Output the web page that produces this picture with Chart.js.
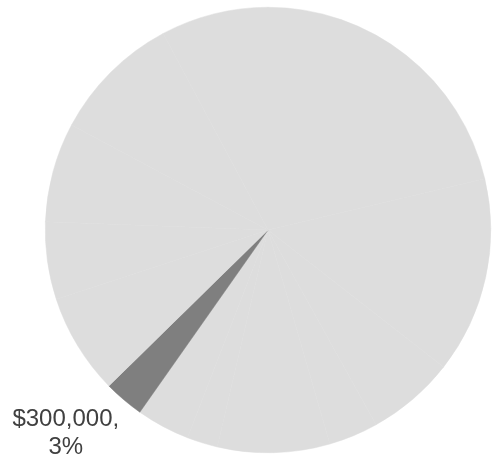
<!DOCTYPE html>
<html>
<head>
<meta charset="utf-8">
<script src="https://cdn.jsdelivr.net/npm/chart.js@4/dist/chart.umd.min.js"></script>
<style>
  html, body { margin: 0; padding: 0; background: #ffffff; }
  #wrap { width: 492px; height: 464px; position: relative; }
</style>
</head>
<body>
<div id="wrap"><canvas id="c" width="492" height="464"></canvas></div>
<script>
// Categories (slices, clockwise from 12 o'clock)
const categories = ["A", "B", "C", "D", "E", "F", "G", "H", "I", "J", "K", "L", "M"];
// Values in dollars
const values = [2200000, 1470000, 660000, 370000, 840000, 230000, 400000, 300000, 755000, 580000, 745000, 970000, 805000];
// Which slices are highlighted / labelled
const highlighted = ["H"];
const lightColor = "#dddddd";
const darkColor = "#7f7f7f";

const total = values.reduce((a, b) => a + b, 0);
const colors = categories.map(c => highlighted.includes(c) ? darkColor : lightColor);

const labelPlugin = {
  id: "sliceLabel",
  afterDatasetsDraw(chart) {
    const ctx = chart.ctx;
    const meta = chart.getDatasetMeta(0);
    categories.forEach((cat, i) => {
      if (!highlighted.includes(cat)) return;
      const arc = meta.data[i];
      const p = arc.getProps(["x", "y", "startAngle", "endAngle", "outerRadius"], true);
      const mid = (p.startAngle + p.endAngle) / 2;
      const r = p.outerRadius + 20;
      const ax = p.x + Math.cos(mid) * r;
      const ay = p.y + Math.sin(mid) * r;
      const v = values[i];
      const pct = Math.round(v / total * 100);
      const line1 = "$" + v.toLocaleString("en-US") + ",";
      const line2 = pct + "%";
      ctx.save();
      ctx.fillStyle = "#404040";
      ctx.font = "24px 'Liberation Sans', Arial, sans-serif";
      ctx.textAlign = "center";
      ctx.textBaseline = "alphabetic";
      const cx = ax - 45;
      ctx.fillText(line1, cx, ay + 11);
      ctx.fillText(line2, cx, ay + 39);
      ctx.restore();
    });
  }
};

new Chart(document.getElementById("c"), {
  type: "pie",
  data: {
    labels: categories,
    datasets: [{
      data: values,
      backgroundColor: colors,
      borderColor: colors,
      borderWidth: 0.5
    }]
  },
  options: {
    responsive: false,
    animation: false,
    layout: { padding: { left: 45, right: 1, top: 7, bottom: 11 } },
    plugins: {
      legend: { display: false },
      tooltip: { enabled: false },
      title: { display: false }
    }
  },
  plugins: [labelPlugin]
});
</script>
</body>
</html>
